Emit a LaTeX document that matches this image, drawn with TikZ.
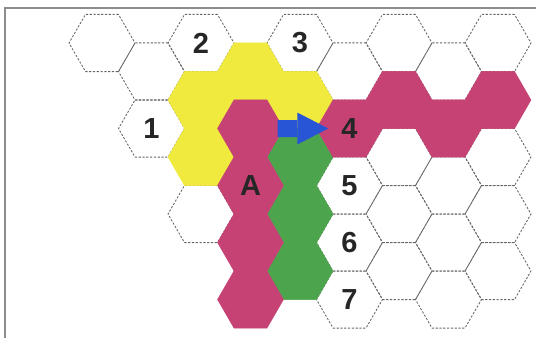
\documentclass[tikz,border=0pt]{standalone}
\usepackage{fontspec}
\setmainfont{Liberation Sans}
\usetikzlibrary{arrows.meta,shapes.geometric}
\definecolor{hsarga}{RGB}{240,234,62}
\definecolor{hpiros}{RGB}{198,66,116}
\definecolor{hzold}{RGB}{76,164,76}
\definecolor{hkek}{RGB}{40,84,214}
\tikzset{
  hexa/.style={regular polygon,regular polygon sides=6,minimum size=66pt,inner sep=0pt,
    text=black!85,font=\fontsize{29}{29}\selectfont\bfseries},
  feher/.style={hexa,draw=black!60,dash pattern=on 2.2pt off 1.6pt,line width=0.85pt},
  sarga/.style={hexa,fill=hsarga,draw=hsarga,line width=0.4pt},
  piros/.style={hexa,fill=hpiros,draw=hpiros,line width=0.4pt},
  zold/.style={hexa,fill=hzold,draw=hzold,line width=0.4pt},
  kek/.style={draw=hkek,line width=17pt,-{Triangle[length=31pt,width=32pt,line width=0pt]}},
  keret/.style={draw=black!45,line width=1.5pt},
}
\begin{document}
\begin{tikzpicture}[x=1pt,y=-1pt]
  \useasboundingbox (0,0) rectangle (536,338);
  \draw[keret] (5,338) -- (5,8) -- (536,8);
  \node[feher] (h00) at (102,43) {};
  \node[feher] (h10) at (151.5,71.5) {};
  \node[feher] (h11) at (151.5,128.5) {1};
  \node[feher] (h20) at (201,43) {2};
  \node[feher] (h23) at (201,214) {};
  \node[feher] (h40) at (300,43) {3};
  \node[feher] (h50) at (349.5,71.5) {};
  \node[feher] (h52) at (349.5,185.5) {5};
  \node[feher] (h53) at (349.5,242.5) {6};
  \node[feher] (h54) at (349.5,299.5) {7};
  \node[feher] (h60) at (399,43) {};
  \node[feher] (h62) at (399,157) {};
  \node[feher] (h63) at (399,214) {};
  \node[feher] (h64) at (399,271) {};
  \node[feher] (h70) at (448.5,71.5) {};
  \node[feher] (h72) at (448.5,185.5) {};
  \node[feher] (h73) at (448.5,242.5) {};
  \node[feher] (h74) at (448.5,299.5) {};
  \node[feher] (h80) at (498,43) {};
  \node[feher] (h82) at (498,157) {};
  \node[feher] (h83) at (498,214) {};
  \node[feher] (h84) at (498,271) {};
  \node[sarga] (h21) at (201,100) {};
  \node[sarga] (h22) at (201,157) {};
  \node[sarga] (h30) at (250.5,71.5) {};
  \node[sarga] (h41) at (300,100) {};
  \node[zold] (h42) at (300,157) {};
  \node[zold] (h43) at (300,214) {};
  \node[zold] (h44) at (300,271) {};
  \node[piros] (h31) at (250.5,128.5) {};
  \node[piros] (h32) at (250.5,185.5) {A};
  \node[piros] (h33) at (250.5,242.5) {};
  \node[piros] (h34) at (250.5,299.5) {};
  \node[piros] (h51) at (349.5,128.5) {4};
  \node[piros] (h61) at (399,100) {};
  \node[piros] (h71) at (448.5,128.5) {};
  \node[piros] (h81) at (498,100) {};
  \draw[kek] ([xshift=-6pt]h31.east) -- ([xshift=12pt]h51.west);
\end{tikzpicture}
\end{document}
